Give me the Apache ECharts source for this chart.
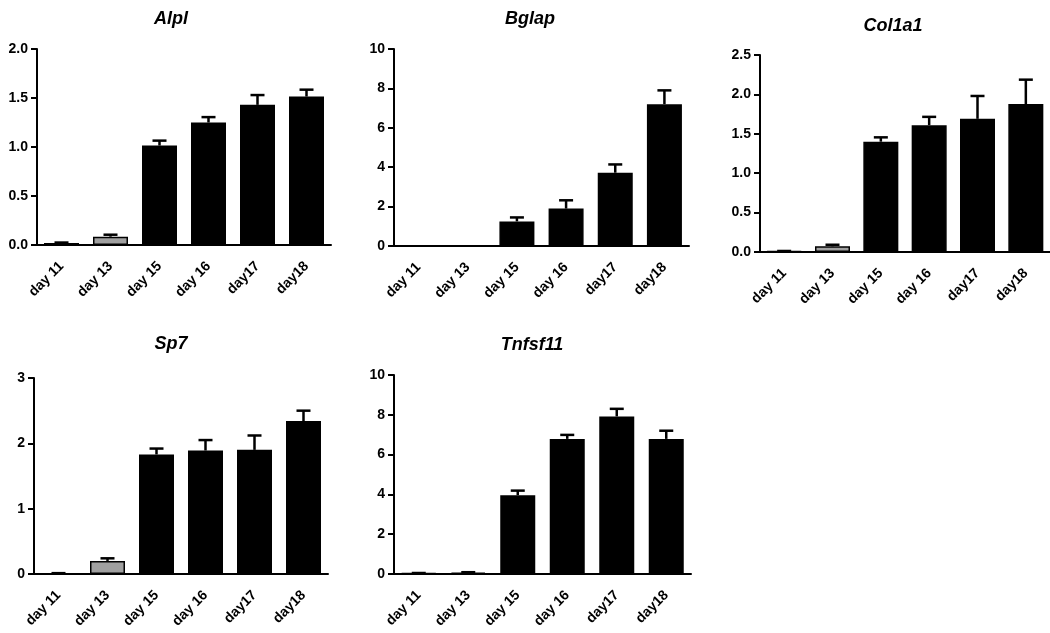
<!DOCTYPE html>
<html>
<head>
<meta charset="utf-8">
<script src="https://cdn.jsdelivr.net/npm/echarts@6/dist/echarts.min.js"></script>
<style>
html,body{margin:0;padding:0;background:#fff;}
#c{width:1050px;height:633px;}
</style>
</head>
<body>
<div id="c"></div>
<script>
const categories = ['day 11', 'day 13', 'day 15', 'day 16', 'day17', 'day18'];

const alplMean = [0.02, 0.085, 1.015, 1.25, 1.43, 1.515];
const alplErr = [0.005, 0.02, 0.05, 0.055, 0.10, 0.07];

const bglapMean = [0, 0, 1.25, 1.9, 3.72, 7.2];
const bglapErr = [0, 0, 0.2, 0.42, 0.42, 0.7];

const col1a1Mean = [0.01, 0.072, 1.40, 1.61, 1.69, 1.877];
const col1a1Err = [0.003, 0.02, 0.055, 0.105, 0.29, 0.31];

const sp7Mean = [0.01, 0.2, 1.83, 1.89, 1.90, 2.34];
const sp7Err = [0.003, 0.04, 0.09, 0.16, 0.22, 0.16];

const tnfsf11Mean = [0.04, 0.07, 3.96, 6.79, 7.92, 6.79];
const tnfsf11Err = [0.01, 0.02, 0.23, 0.2, 0.38, 0.41];

const titles = ['Alpl', 'Bglap', 'Col1a1', 'Sp7', 'Tnfsf11'];
const yMax = [2.0, 10, 2.5, 3, 10];
const yInterval = [0.5, 2, 0.5, 1, 2];
const yDecimals = [1, 0, 1, 0, 0];

const panels = [
  {mean: alplMean, err: alplErr},
  {mean: bglapMean, err: bglapErr},
  {mean: col1a1Mean, err: col1a1Err},
  {mean: sp7Mean, err: sp7Err},
  {mean: tnfsf11Mean, err: tnfsf11Err}
];

// layout (pixels)
const grids = [
  {left: 37, top: 49, width: 294, height: 196},
  {left: 394, top: 49, width: 295, height: 197},
  {left: 760, top: 55, width: 295, height: 197},
  {left: 34, top: 378, width: 294, height: 196},
  {left: 394, top: 375, width: 297, height: 199}
];
const titlePos = [[171, 19], [530, 19], [893, 26], [171, 344], [532, 345]];

const FONT = '"Liberation Sans", Arial, sans-serif';
const barFill = ['#a0a0a0', '#a0a0a0', '#000', '#000', '#000', '#000'];

const option = {
  animation: false,
  backgroundColor: '#fff',
  grid: [], xAxis: [], yAxis: [], series: [], graphic: []
};

panels.forEach((p, i) => {
  option.grid.push(Object.assign({containLabel: false}, grids[i]));
  option.xAxis.push({
    type: 'category', gridIndex: i, data: categories,
    axisLine: {lineStyle: {color: '#000', width: 2}},
    axisTick: {alignWithLabel: true, length: 7, lineStyle: {color: '#000', width: 2}},
    axisLabel: {rotate: 45, color: '#000', fontFamily: FONT, fontWeight: 'bold', fontSize: 14, margin: 19, interval: 0}
  });
  option.yAxis.push({
    type: 'value', gridIndex: i, min: 0, max: yMax[i], interval: yInterval[i],
    splitLine: {show: false},
    axisLine: {show: true, lineStyle: {color: '#000', width: 2}},
    axisTick: {show: true, length: 6, lineStyle: {color: '#000', width: 2}},
    axisLabel: {color: '#000', fontFamily: FONT, fontWeight: 'bold', fontSize: 14, margin: 9,
      formatter: v => v.toFixed(yDecimals[i])}
  });
  option.series.push({
    type: 'bar', xAxisIndex: i, yAxisIndex: i, barWidth: 35,
    data: p.mean.map((v, k) => ({value: v, itemStyle: {color: barFill[k], borderColor: '#000', borderWidth: v > 0 ? 1.5 : 0}})),
  });
  option.series.push({
    type: 'custom', xAxisIndex: i, yAxisIndex: i, z: 1,
    data: p.mean.map((v, k) => [k, v, v + p.err[k]]),
    renderItem: (params, api) => {
      const x = api.value(0), lo = api.value(1), hi = api.value(2);
      if (hi - lo <= 0 || lo <= 0) return;
      const a = api.coord([x, lo]);
      const b = api.coord([x, hi]);
      const half = 7;
      return {
        type: 'group',
        children: [
          {type: 'line', shape: {x1: a[0], y1: a[1], x2: b[0], y2: b[1]}, style: {stroke: '#000', lineWidth: 2.5}},
          {type: 'line', shape: {x1: b[0] - half, y1: b[1], x2: b[0] + half, y2: b[1]}, style: {stroke: '#000', lineWidth: 2.5}}
        ]
      };
    }
  });
  option.graphic.push({
    type: 'text', x: titlePos[i][0], y: titlePos[i][1],
    style: {text: titles[i], fill: '#000', font: 'italic bold 18px ' + FONT, textAlign: 'center', textVerticalAlign: 'middle'}
  });
});

const chart = echarts.init(document.getElementById('c'), null, {renderer: 'canvas'});
chart.setOption(option);
</script>
</body>
</html>
